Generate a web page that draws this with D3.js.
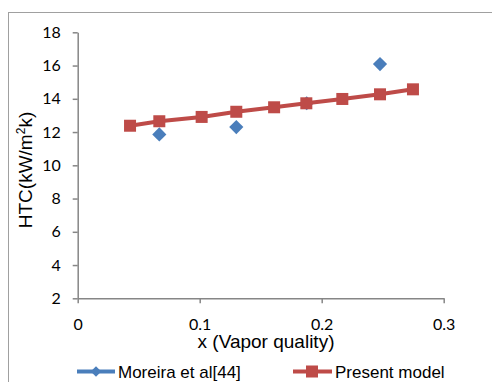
<!DOCTYPE html>
<html><head><meta charset="utf-8">
<script src="https://cdn.jsdelivr.net/npm/d3@7"></script>
<style>body{margin:0;background:#fff;}svg{display:block;}</style>
</head><body>
<script>
const moreiraX = [0.0669, 0.130, 0.1877, 0.2478];
const moreiraY = [11.86, 12.30, 13.73, 16.09];
const modelX = [0.0429, 0.0669, 0.1016, 0.130, 0.161, 0.1874, 0.2169, 0.2478, 0.2748];
const modelY = [12.38, 12.65, 12.91, 13.22, 13.49, 13.73, 13.99, 14.27, 14.57];
const xTicks = [0, 0.1, 0.2, 0.3];
const yTicks = [2, 4, 6, 8, 10, 12, 14, 16, 18];
const seriesNames = ["Moreira et al[44]", "Present model"];
const colors = ["#4A7EBB", "#BE4B48"];

const W = 492, H = 382;
const svg = d3.select("body").append("svg").attr("width", W).attr("height", H);
svg.append("rect").attr("x", 8.5).attr("y", 12.5).attr("width", 500).attr("height", 400)
  .attr("fill", "#fff").attr("stroke", "#a0a0a0").attr("stroke-width", 1);

const x = d3.scaleLinear().domain([0, 0.3]).range([77.7, 443.7]);
const y = d3.scaleLinear().domain([2, 18]).range([298.3, 32.3]);

const axisColor = "#868686";
const xAxis = svg.append("g").attr("transform", `translate(0,${y(2)})`)
  .call(d3.axisBottom(x).tickValues(xTicks).tickFormat(d => d3.format("")(d)).tickSizeOuter(0).tickSizeInner(5).tickPadding(15));
const yAxis = svg.append("g").attr("transform", `translate(${x(0)},0)`)
  .call(d3.axisLeft(y).tickValues(yTicks).tickSizeOuter(0).tickSizeInner(5).tickPadding(12));
[xAxis, yAxis].forEach(g => {
  g.select(".domain").attr("stroke", axisColor).attr("stroke-width", 1.5);
  g.selectAll(".tick line").attr("stroke", axisColor).attr("stroke-width", 1.5);
  g.selectAll(".tick text").attr("font-family", "Lato, 'Open Sans', sans-serif").attr("font-size", 16).attr("fill", "#000");
});

// Moreira diamonds
const diamond = d3.symbol().type(d3.symbolDiamond2).size(128);
svg.append("g").selectAll("path").data(moreiraX).join("path")
  .attr("transform", (d, i) => `translate(${x(d)},${y(moreiraY[i])})`)
  .attr("d", diamond).attr("fill", colors[0]);

// Model line + squares
const line = d3.line().x(d => x(d[0])).y(d => y(d[1]));
svg.append("path").datum(modelX.map((d, i) => [d, modelY[i]]))
  .attr("d", line).attr("fill", "none").attr("stroke", colors[1]).attr("stroke-width", 4);
svg.append("g").selectAll("rect").data(modelX).join("rect")
  .attr("x", d => x(d) - 6).attr("y", (d, i) => y(modelY[i]) - 6)
  .attr("width", 12).attr("height", 12).attr("fill", colors[1]);

// Titles
svg.append("text").attr("x", 266).attr("y", 348).attr("text-anchor", "middle")
  .attr("font-family", "'Liberation Sans', Arial, sans-serif").attr("font-size", 19).text("x (Vapor quality)");
const yt = svg.append("text").attr("transform", "translate(32,170) rotate(-90)").attr("text-anchor", "middle")
  .attr("font-family", "'Liberation Sans', Arial, sans-serif").attr("font-size", 19);
yt.append("tspan").text("HTC(kW/m");
yt.append("tspan").attr("font-size", 12).attr("dy", -7).text("2");
yt.append("tspan").attr("dy", 7).text("k)");

// Legend
const leg = svg.append("g");
const ly = 371.5;
leg.append("line").attr("x1", 77).attr("x2", 115).attr("y1", ly).attr("y2", ly).attr("stroke", colors[0]).attr("stroke-width", 4);
leg.append("path").attr("transform", `translate(96,${ly})`).attr("d", d3.symbol().type(d3.symbolDiamond2).size(70)).attr("fill", colors[0]);
leg.append("text").attr("x", 118).attr("y", ly + 6).attr("font-family", "'Liberation Sans', Arial, sans-serif").attr("font-size", 17).text(seriesNames[0]);
leg.append("line").attr("x1", 293).attr("x2", 332).attr("y1", ly).attr("y2", ly).attr("stroke", colors[1]).attr("stroke-width", 4);
leg.append("rect").attr("x", 306).attr("y", ly - 6).attr("width", 12).attr("height", 12).attr("fill", colors[1]);
leg.append("text").attr("x", 335).attr("y", ly + 6).attr("font-family", "'Liberation Sans', Arial, sans-serif").attr("font-size", 17).text(seriesNames[1]);
</script>
</body></html>
